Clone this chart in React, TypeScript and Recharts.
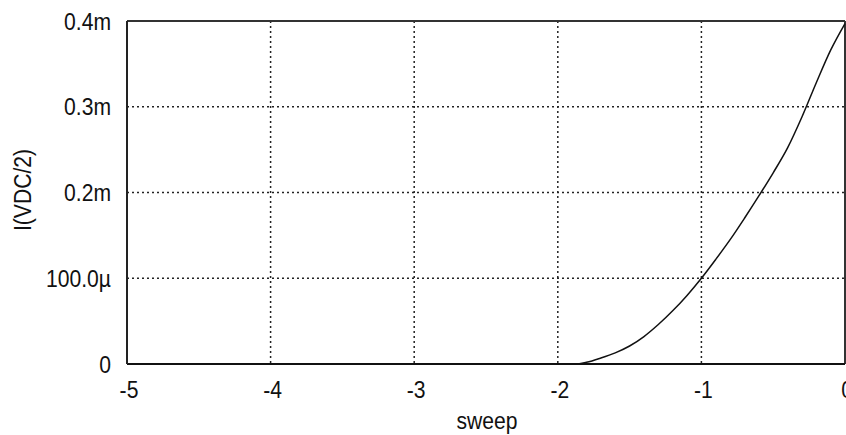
import { LineChart, Line, XAxis, YAxis, CartesianGrid, ReferenceLine } from 'recharts';

// sweep voltage (V) and I(VDC/2) in mA
const SWEEP = [-5, -4, -3, -2, -1.9, -1.85, -1.8, -1.7, -1.6, -1.5, -1.4, -1.3, -1.2, -1.1, -1.0, -0.9, -0.8, -0.7, -0.6, -0.5, -0.4, -0.3, -0.2, -0.1, 0];
const CURRENT = [0, 0, 0, 0, 0, 0.0004, 0.002, 0.007, 0.013, 0.021, 0.032, 0.046, 0.062, 0.08, 0.1, 0.122, 0.145, 0.17, 0.196, 0.223, 0.252, 0.288, 0.328, 0.366, 0.397];

const X_TICKS = [-5, -4, -3, -2, -1, 0];
const Y_TICKS = [0, 0.1, 0.2, 0.3, 0.4];
const Y_LABELS = ['0', '100.0µ', '0.2m', '0.3m', '0.4m'];

const FONT = "'Liberation Sans', Arial, sans-serif";
const FS = 24;
const SX = 0.88; // squeeze text horizontally, like the old bitmap font

const data = SWEEP.map((x, i) => ({ x, y: CURRENT[i] }));

// text narrowed around its anchor point
function NarrowText({ x, y, anchor, dy, children }: any) {
  return (
    <text
      transform={`translate(${x},${y}) scale(${SX},1)`}
      textAnchor={anchor}
      dy={dy}
      fontSize={FS}
      fontFamily={FONT}
      fill="#111"
    >
      {children}
    </text>
  );
}

function XTick({ x, y, payload }: any) {
  return <NarrowText x={x + 2} y={y} anchor="middle" dy="0.71em">{String(payload.value)}</NarrowText>;
}

function YTick({ x, y, payload }: any) {
  const i = Y_TICKS.indexOf(payload.value);
  return <NarrowText x={x} y={y} anchor="end" dy="0.355em">{Y_LABELS[i] ?? String(payload.value)}</NarrowText>;
}

export default function App() {
  return (
    <div style={{ position: 'absolute', left: 0, top: 0, width: 846, height: 435, overflow: 'hidden', background: '#fff' }}>
      <LineChart width={880} height={435} data={data} margin={{ top: 21, right: 35, bottom: 0, left: 0 }}>
        <CartesianGrid stroke="#222" strokeWidth={1.5} strokeDasharray="2 3" />
        <XAxis
          type="number"
          dataKey="x"
          domain={[-5, 0]}
          ticks={X_TICKS}
          height={71}
          tickLine={false}
          tickSize={0}
          tickMargin={17}
          tick={<XTick />}
          axisLine={{ stroke: '#111', strokeWidth: 2 }}
          label={{
            content: () => <NarrowText x={487} y={429} anchor="middle">sweep</NarrowText>,
          }}
        />
        <YAxis
          type="number"
          domain={[0, 0.4]}
          ticks={Y_TICKS}
          width={127}
          tickLine={false}
          tickSize={0}
          tickMargin={16}
          tick={<YTick />}
          axisLine={{ stroke: '#222', strokeWidth: 2 }}
          label={{
            content: () => (
              <text
                transform="translate(31,190) rotate(-90) scale(0.88,1)"
                textAnchor="middle"
                fontSize={FS}
                fontFamily={FONT}
                fill="#111"
              >
                I(VDC/2)
              </text>
            ),
          }}
        />
        <ReferenceLine y={0.4} stroke="#333" strokeWidth={2} />
        <ReferenceLine x={0} stroke="#333" strokeWidth={2} />
        <Line type="monotone" dataKey="y" stroke="#111" strokeWidth={1.5} dot={false} isAnimationActive={false} />
      </LineChart>
    </div>
  );
}
